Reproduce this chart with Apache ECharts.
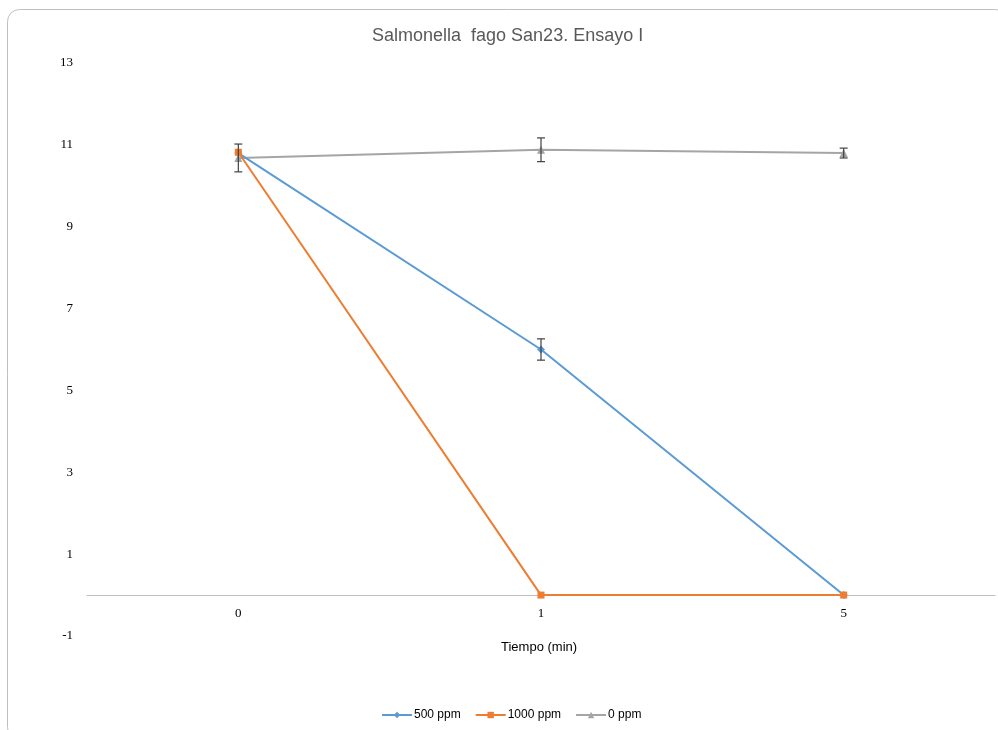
<!DOCTYPE html>
<html>
<head>
<meta charset="utf-8">
<script src="https://cdn.jsdelivr.net/npm/echarts@6/dist/echarts.min.js"></script>
<style>
  html, body { margin: 0; padding: 0; background: #fff; }
  #main { width: 998px; height: 730px; }
</style>
</head>
<body>
<div id="main"></div>
<script>
// 数据
var categories = ['0', '1', '5'];
var serie500 = [10.8, 6.0, 0];
var serie1000 = [10.82, 0, 0];
var serie0 = [10.68, 10.88, 10.8];
// 误差 (±)
var err500 = [0, 0.26, 0];
var err1000 = [0, 0, 0];
var err0 = [0.34, 0.29, 0.12];
var yTicks = { min: -1, max: 13, step: 2 };

var colors = ['#5B9BD5', '#ED7D31', '#A5A5A5'];

// 误差线
function errorSeries(vals, errs) {
    var d = [];
    for (var i = 0; i < vals.length; i++) {
        if (errs[i] > 0) d.push([i, vals[i] - errs[i], vals[i] + errs[i]]);
    }
    return {
        type: 'custom',
        silent: true,
        z: 5,
        renderItem: function (params, api) {
            var x = api.value(0);
            var lo = api.coord([x, api.value(1)]);
            var hi = api.coord([x, api.value(2)]);
            var w = 4;
            var st = { stroke: '#404040', lineWidth: 1.2 };
            return {
                type: 'group',
                children: [
                    { type: 'line', shape: { x1: lo[0], y1: lo[1], x2: hi[0], y2: hi[1] }, style: st },
                    { type: 'line', shape: { x1: lo[0] - w, y1: lo[1], x2: lo[0] + w, y2: lo[1] }, style: st },
                    { type: 'line', shape: { x1: hi[0] - w, y1: hi[1], x2: hi[0] + w, y2: hi[1] }, style: st }
                ]
            };
        },
        encode: { x: 0, y: [1, 2] },
        data: d
    };
}

var myChart = echarts.init(document.getElementById('main'));
var option = {
    animation: false,
    color: colors,
    title: {
        text: 'Salmonella  fago San23. Ensayo I',
        left: 367,
        top: 22,
        textStyle: {
            fontFamily: 'Liberation Sans',
            fontSize: 18,
            fontWeight: 'normal',
            color: '#595959'
        }
    },
    graphic: [{
        type: 'rect',
        shape: { x: 7.5, y: 9.5, width: 1000, height: 730, r: 12 },
        style: { fill: 'none', stroke: '#BFBFBF', lineWidth: 1 },
        silent: true
    }, {
        // 横轴标题
        type: 'text',
        left: 501,
        top: 641,
        style: {
            text: 'Tiempo (min)',
            font: '13px "Liberation Sans"',
            fill: '#000'
        },
        silent: true
    }],
    legend: {
        bottom: 4,
        left: 376,
        itemWidth: 30,
        itemHeight: 8,
        itemGap: 14,
        data: ['500 ppm', '1000 ppm', '0 ppm'],
        textStyle: { fontFamily: 'Liberation Sans', fontSize: 12, color: '#000', padding: [0, 0, 0, -3] }
    },
    grid: {
        left: 87,
        right: 3,
        top: 63,
        bottom: 94
    },
    xAxis: {
        type: 'category',
        data: categories,
        boundaryGap: true,
        axisLine: { onZero: true, lineStyle: { color: '#BFBFBF', width: 1 } },
        axisTick: { show: false },
        axisLabel: { fontFamily: 'Liberation Serif', fontSize: 13, color: '#000', margin: -29 }
    },
    yAxis: {
        type: 'value',
        min: yTicks.min,
        max: yTicks.max,
        interval: yTicks.step,
        axisLine: { show: false },
        axisTick: { show: false },
        splitLine: { show: false },
        axisLabel: { fontFamily: 'Liberation Serif', fontSize: 13, color: '#000', margin: 14 }
    },
    series: [
        {
            name: '500 ppm',
            type: 'line',
            data: serie500,
            symbol: 'diamond',
            symbolSize: 8,
            z: 3,
            lineStyle: { width: 2, color: colors[0] },
            itemStyle: { color: colors[0] }
        },
        {
            name: '1000 ppm',
            type: 'line',
            data: serie1000,
            symbol: 'rect',
            symbolSize: 7,
            z: 4,
            lineStyle: { width: 2, color: colors[1] },
            itemStyle: { color: colors[1] }
        },
        {
            name: '0 ppm',
            type: 'line',
            data: serie0,
            symbol: 'triangle',
            symbolSize: 8,
            z: 2,
            lineStyle: { width: 2, color: colors[2] },
            itemStyle: { color: colors[2] }
        },
        errorSeries(serie500, err500),
        errorSeries(serie1000, err1000),
        errorSeries(serie0, err0)
    ]
};
myChart.setOption(option);
</script>
</body>
</html>
